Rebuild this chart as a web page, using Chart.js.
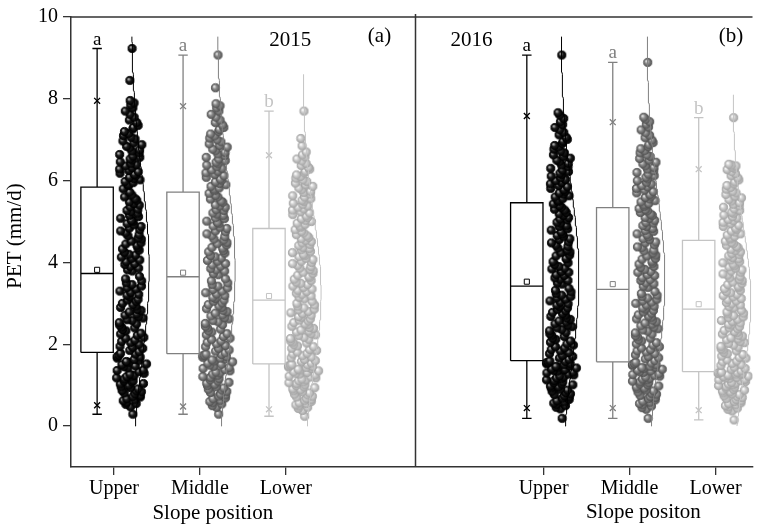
<!DOCTYPE html>
<html>
<head>
<meta charset="utf-8">
<script src="https://cdn.jsdelivr.net/npm/chart.js@4.4.1/dist/chart.umd.min.js"></script>
<style>
  html, body { margin: 0; padding: 0; background: #fff; }
  #wrap { width: 758px; height: 528px; }
</style>
</head>
<body>
<div id="wrap"><canvas id="c" width="758" height="528"></canvas></div>
<script>
// ---- data -------------------------------------------------------------
const slopePositions = ['Upper', 'Middle', 'Lower'];
const years = ['2015', '2016'];
const panelTags = ['(a)', '(b)'];
const xAxisTitles = ['Slope position', 'Slope positon'];
const yAxisTitle = 'PET (mm/d)';
const yTicks = [0, 2, 4, 6, 8, 10];
const groupLetters = ['a', 'a', 'b', 'a', 'a', 'b'];

// daily PET (mm/d), sorted, per slope position and year
const pet2015Upper = [
  0.29,0.47,0.53,0.55,0.58,0.62,0.64,0.67,0.71,0.72,0.75,0.79,0.81,0.84,0.86,0.87,0.91,0.94,0.96,1.0,
  1.03,1.04,1.08,1.1,1.11,1.15,1.18,1.2,1.21,1.24,1.27,1.29,1.33,1.36,1.37,1.42,1.45,1.47,1.5,1.52,
  1.56,1.58,1.61,1.63,1.66,1.69,1.7,1.73,1.76,1.78,
  1.82,1.85,1.9,1.93,1.95,2.0,2.04,2.07,2.1,2.15,2.17,2.22,2.25,2.27,2.33,2.36,2.4,2.42,2.47,2.5,
  2.53,2.58,2.6,2.64,2.68,2.71,2.74,2.79,2.83,2.85,2.9,2.93,2.97,3.0,3.05,3.08,3.1,3.16,3.2,3.22,
  3.27,3.3,3.35,3.38,3.42,3.46,3.5,3.55,3.6,3.66,
  3.79,3.82,3.86,3.9,3.95,3.97,4.02,4.06,4.1,4.13,4.18,4.2,4.25,4.3,4.33,4.36,4.42,4.45,4.48,4.52,
  4.57,4.6,4.65,4.68,4.72,4.77,4.8,4.84,4.88,4.92,4.95,5.0,5.03,5.08,5.12,5.15,5.2,5.24,5.27,5.3,
  5.36,5.4,5.44,5.48,5.52,5.56,5.6,5.65,5.72,5.8,
  5.88,5.91,5.95,5.98,6.02,6.05,6.08,6.12,6.15,6.18,6.22,6.25,6.28,6.32,6.36,6.39,6.42,6.46,6.5,6.53,
  6.57,6.6,6.64,6.68,6.72,6.75,6.8,6.84,6.88,6.92,6.97,7.02,7.06,7.1,7.15,7.2,7.26,7.3,7.35,7.42,
  7.48,7.55,7.62,7.7,7.78,7.85,7.9,7.96,8.45,9.23
];
const pet2015Middle = [
  0.29,0.46,0.5,0.54,0.57,0.6,0.63,0.67,0.69,0.73,0.76,0.78,0.82,0.85,0.88,0.9,0.93,0.96,0.99,1.02,
  1.05,1.07,1.1,1.13,1.16,1.19,1.21,1.24,1.27,1.3,1.32,1.35,1.38,1.41,1.43,1.46,1.49,1.51,1.54,1.57,
  1.59,1.62,1.64,1.66,1.68,1.7,1.72,1.73,1.75,1.76,
  1.79,1.83,1.86,1.9,1.94,1.97,2.01,2.05,2.08,2.12,2.15,2.19,2.23,2.26,2.3,2.33,2.37,2.4,2.44,2.48,
  2.51,2.55,2.58,2.62,2.65,2.69,2.72,2.76,2.8,2.83,2.87,2.9,2.94,2.97,3.01,3.05,3.08,3.12,3.15,3.19,
  3.23,3.26,3.3,3.34,3.38,3.42,3.46,3.5,3.55,3.6,
  3.7,3.73,3.79,3.82,3.85,3.91,3.94,3.97,4.03,4.05,4.11,4.14,4.17,4.23,4.26,4.29,4.35,4.37,4.43,4.46,
  4.49,4.55,4.57,4.63,4.65,4.7,4.75,4.77,4.83,4.86,4.89,4.95,4.98,5.01,5.07,5.09,5.15,5.18,5.21,5.27,
  5.29,5.35,5.38,5.41,5.47,5.5,5.55,5.6,5.64,5.69,
  5.75,5.79,5.82,5.86,5.9,5.93,5.97,6.01,6.04,6.08,6.12,6.15,6.19,6.23,6.26,6.3,6.34,6.38,6.41,6.45,
  6.49,6.53,6.57,6.61,6.65,6.69,6.73,6.77,6.82,6.86,6.9,6.95,7.0,7.04,7.09,7.14,7.2,7.25,7.3,7.36,
  7.42,7.48,7.55,7.62,7.7,7.78,7.83,7.88,8.27,9.07
];
const pet2015Lower = [
  0.24,0.38,0.43,0.46,0.49,0.52,0.55,0.57,0.6,0.63,0.65,0.68,0.71,0.73,0.76,0.78,0.81,0.84,0.86,0.89,
  0.91,0.94,0.96,0.99,1.01,1.04,1.06,1.08,1.11,1.13,1.15,1.18,1.2,1.22,1.25,1.27,1.29,1.31,1.33,1.35,
  1.37,1.39,1.41,1.43,1.44,1.46,1.47,1.49,1.5,1.51,
  1.54,1.58,1.6,1.63,1.67,1.69,1.72,1.76,1.78,1.81,1.85,1.87,1.9,1.94,1.96,1.99,2.03,2.05,2.08,2.12,
  2.14,2.17,2.21,2.23,2.26,2.3,2.32,2.35,2.39,2.41,2.44,2.48,2.5,2.53,2.57,2.59,2.62,2.66,2.68,2.71,
  2.75,2.77,2.8,2.84,2.86,2.89,2.93,2.96,3.0,3.05,
  3.11,3.15,3.18,3.22,3.25,3.29,3.32,3.35,3.39,3.42,3.46,3.49,3.52,3.56,3.59,3.63,3.66,3.69,3.73,3.76,
  3.8,3.83,3.86,3.9,3.93,3.97,4.0,4.03,4.07,4.1,4.14,4.17,4.2,4.24,4.27,4.31,4.34,4.37,4.41,4.44,
  4.48,4.51,4.54,4.58,4.61,4.65,4.68,4.72,4.76,4.8,
  4.86,4.89,4.93,4.96,5.0,5.03,5.07,5.1,5.14,5.17,5.21,5.24,5.28,5.31,5.35,5.38,5.42,5.45,5.49,5.52,
  5.56,5.6,5.63,5.67,5.71,5.74,5.78,5.82,5.86,5.9,5.94,5.98,6.02,6.06,6.1,6.14,6.19,6.23,6.28,6.32,
  6.37,6.42,6.48,6.53,6.58,6.63,6.7,6.85,7.03,7.7
];
const pet2016Upper = [
  0.19,0.42,0.46,0.5,0.53,0.56,0.59,0.62,0.65,0.68,0.71,0.74,0.77,0.79,0.82,0.85,0.88,0.9,0.93,0.96,
  0.98,1.01,1.03,1.06,1.08,1.11,1.13,1.16,1.18,1.2,1.23,1.25,1.27,1.3,1.32,1.34,1.36,1.38,1.4,1.42,
  1.44,1.46,1.48,1.5,1.52,1.53,1.55,1.56,1.58,1.59,
  1.63,1.66,1.7,1.73,1.77,1.8,1.84,1.87,1.91,1.94,1.98,2.01,2.05,2.08,2.12,2.15,2.19,2.22,2.26,2.29,
  2.33,2.36,2.4,2.43,2.47,2.5,2.54,2.57,2.61,2.64,2.68,2.71,2.75,2.78,2.82,2.85,2.89,2.92,2.96,2.99,
  3.03,3.06,3.1,3.13,3.17,3.2,3.24,3.28,3.32,3.37,
  3.47,3.5,3.56,3.59,3.62,3.68,3.7,3.76,3.78,3.84,3.86,3.9,3.95,3.99,4.02,4.08,4.1,4.16,4.18,4.24,
  4.26,4.3,4.35,4.39,4.42,4.48,4.5,4.56,4.58,4.64,4.66,4.7,4.75,4.79,4.82,4.88,4.9,4.96,4.98,5.04,
  5.06,5.1,5.15,5.19,5.22,5.28,5.3,5.35,5.39,5.43,
  5.49,5.52,5.56,5.6,5.63,5.67,5.7,5.74,5.78,5.81,5.85,5.88,5.92,5.96,6.0,6.03,6.07,6.11,6.15,6.18,
  6.22,6.26,6.3,6.34,6.38,6.42,6.46,6.5,6.55,6.59,6.63,6.68,6.72,6.77,6.82,6.86,6.91,6.96,7.01,7.06,
  7.12,7.18,7.24,7.3,7.37,7.44,7.52,7.6,7.66,9.07
];
const pet2016Middle = [
  0.19,0.41,0.45,0.49,0.52,0.55,0.58,0.61,0.64,0.67,0.7,0.72,0.75,0.78,0.8,0.83,0.86,0.88,0.91,0.93,
  0.96,0.98,1.01,1.03,1.06,1.08,1.1,1.13,1.15,1.17,1.2,1.22,1.24,1.26,1.28,1.31,1.33,1.35,1.37,1.39,
  1.41,1.43,1.44,1.46,1.48,1.5,1.51,1.53,1.54,1.56,
  1.6,1.64,1.67,1.7,1.74,1.77,1.81,1.84,1.87,1.91,1.94,1.98,2.01,2.04,2.08,2.11,2.15,2.18,2.21,2.25,
  2.28,2.32,2.35,2.38,2.42,2.45,2.49,2.52,2.55,2.59,2.62,2.66,2.69,2.72,2.76,2.79,2.83,2.86,2.89,2.93,
  2.96,3.0,3.03,3.06,3.1,3.13,3.17,3.2,3.24,3.29,
  3.39,3.42,3.48,3.5,3.56,3.58,3.63,3.68,3.7,3.76,3.78,3.83,3.88,3.9,3.96,3.98,4.03,4.08,4.1,4.16,
  4.18,4.23,4.28,4.3,4.36,4.38,4.43,4.48,4.5,4.56,4.58,4.63,4.68,4.7,4.76,4.78,4.83,4.88,4.9,4.96,
  4.98,5.03,5.08,5.1,5.15,5.18,5.22,5.26,5.29,5.32,
  5.37,5.41,5.44,5.48,5.51,5.55,5.59,5.62,5.66,5.7,5.73,5.77,5.81,5.85,5.88,5.92,5.96,6.0,6.04,6.08,
  6.12,6.16,6.2,6.24,6.28,6.32,6.36,6.41,6.45,6.5,6.54,6.59,6.63,6.68,6.73,6.78,6.83,6.88,6.93,6.99,
  7.05,7.11,7.17,7.24,7.31,7.38,7.44,7.5,7.55,8.89
];
const pet2016Lower = [
  0.15,0.37,0.41,0.44,0.47,0.5,0.52,0.55,0.57,0.6,0.62,0.65,0.67,0.7,0.72,0.74,0.77,0.79,0.81,0.84,
  0.86,0.88,0.9,0.93,0.95,0.97,0.99,1.01,1.03,1.05,1.07,1.09,1.11,1.13,1.14,1.16,1.18,1.19,1.21,1.22,
  1.24,1.25,1.26,1.27,1.28,1.29,1.3,1.31,1.31,1.32,
  1.35,1.39,1.41,1.44,1.48,1.5,1.53,1.57,1.59,1.62,1.66,1.68,1.71,1.75,1.77,1.8,1.84,1.86,1.89,1.93,
  1.95,1.98,2.02,2.04,2.07,2.11,2.13,2.16,2.2,2.22,2.25,2.29,2.31,2.34,2.38,2.4,2.43,2.47,2.49,2.52,
  2.56,2.58,2.61,2.65,2.67,2.7,2.74,2.76,2.79,2.83,
  2.89,2.92,2.96,2.99,3.02,3.06,3.09,3.12,3.16,3.19,3.22,3.26,3.29,3.32,3.36,3.39,3.42,3.46,3.49,3.52,
  3.56,3.59,3.62,3.66,3.69,3.72,3.76,3.79,3.82,3.86,3.89,3.92,3.96,3.99,4.02,4.06,4.09,4.12,4.16,4.19,
  4.22,4.26,4.29,4.32,4.36,4.39,4.42,4.46,4.49,4.52,
  4.57,4.6,4.64,4.67,4.7,4.74,4.77,4.81,4.84,4.88,4.91,4.95,4.98,5.02,5.05,5.09,5.12,5.16,5.2,5.23,
  5.27,5.31,5.35,5.38,5.42,5.46,5.5,5.54,5.58,5.62,5.66,5.7,5.74,5.79,5.83,5.88,5.92,5.97,6.02,6.07,
  6.12,6.17,6.22,6.27,6.3,6.33,6.36,6.38,6.4,7.54
];

// box statistics, order: 2015 Upper/Middle/Lower, 2016 Upper/Middle/Lower
const boxMin    = [0.29, 0.29, 0.24, 0.19, 0.19, 0.15];
const boxP01    = [0.51, 0.48, 0.41, 0.44, 0.44, 0.39];
const boxQ1     = [1.80, 1.77, 1.52, 1.60, 1.57, 1.33];
const boxMedian = [3.73, 3.65, 3.08, 3.42, 3.34, 2.86];
const boxMean   = [3.82, 3.75, 3.18, 3.53, 3.47, 2.98];
const boxQ3     = [5.84, 5.72, 4.83, 5.46, 5.34, 4.54];
const boxP99    = [7.95, 7.82, 6.62, 7.58, 7.43, 6.28];
const boxMax    = [9.23, 9.07, 7.70, 9.07, 8.89, 7.54];
// upper end of each fitted normal curve
const curveTop  = [9.52, 9.52, 8.6, 9.52, 9.52, 8.1];

const petSeries = [pet2015Upper, pet2015Middle, pet2015Lower,
                   pet2016Upper, pet2016Middle, pet2016Lower];

// ---- layout / style -----------------------------------------------------
const FONT = '"Liberation Serif", "Times New Roman", serif';
const groupPos = [1, 2, 3, 6, 7, 8];          // slot of each group on the shared x scale
const panelSplit = 4.5;                        // boundary between the two year panels
const tone = ['#000000', '#808080', '#c4c4c4'];
const groupColor = i => tone[i % 3];
const BOX_L = -0.385, BOX_R = -0.008, WHISK = -0.196, CAP = 0.055;
const SWARM = 0.2, SPREAD = 0.19, CURVE_AMP = 0.21, KDE_BW = 0.45;

function meanOf(a) { return a.reduce((s, v) => s + v, 0) / a.length; }
function sdOf(a) { const m = meanOf(a); return Math.sqrt(a.reduce((s, v) => s + (v - m) * (v - m), 0) / (a.length - 1)); }

// scrambled index in [0,1) used to place each point sideways in its swarm
function scramble(i) {
  let h = Math.imul(i + 1, 0x9E3779B1);
  h ^= h >>> 15; h = Math.imul(h, 0x85EBCA77);
  h ^= h >>> 13; h = Math.imul(h, 0xC2B2AE3D);
  h ^= h >>> 16;
  return (h >>> 0) / 4294967296;
}
function sideSlot(i) { return ((i + 1) * 0.6180339887 + 0.45 * scramble(i)) % 1; }

// shaded sphere used as the point marker
function ballSprite(hi, body, edge, r) {
  const s = Math.ceil(2 * r + 2);
  const c = document.createElement('canvas');
  c.width = s; c.height = s;
  const g = c.getContext('2d');
  const cx = s / 2, cy = s / 2;
  const grad = g.createRadialGradient(cx - r * 0.35, cy - r * 0.35, r * 0.1, cx, cy, r);
  grad.addColorStop(0, hi);
  grad.addColorStop(0.45, body);
  grad.addColorStop(1, edge);
  g.beginPath(); g.arc(cx, cy, r, 0, Math.PI * 2);
  g.fillStyle = grad; g.fill();
  g.lineWidth = 0.9; g.strokeStyle = edge; g.stroke();
  return c;
}
const R = 4.1;
const sprites = [
  ballSprite('#b0b0b0', '#1a1a1a', '#000000', R),
  ballSprite('#e6e6e6', '#8a8a8a', '#555555', R),
  ballSprite('#ffffff', '#cfcfcf', '#a6a6a6', R)
];

const curveSets = [], markerSets = [], boxSets = [], pointSets = [];

petSeries.forEach((vals, g) => {
  const cx = groupPos[g];
  const col = groupColor(g);
  const m = meanOf(vals), sd = sdOf(vals);
  const dens = v => Math.exp(-0.5 * ((v - m) / sd) ** 2);
  const kde = v => vals.reduce((s, w) => s + Math.exp(-0.5 * ((v - w) / KDE_BW) ** 2), 0);
  const kdeMax = Math.max(...vals.map(kde));
  const base = cx + SWARM;

  // jittered points, sideways spread follows the data density
  pointSets.push({
    data: vals.map((v, i) => {
      const w = Math.max(kde(v) / kdeMax, 0.08);
      return { x: base + (sideSlot(i) - 0.5) * 2 * SPREAD * w, y: v };
    }),
    pointStyle: sprites[g % 3],
    pointRadius: R, pointHoverRadius: R,
    showLine: false
  });

  // fitted normal curve
  const curve = [];
  for (let y = 0; y <= curveTop[g] + 1e-9; y += 0.05) curve.push({ x: base + CURVE_AMP * dens(y), y });
  curve.push({ x: base + CURVE_AMP * dens(curveTop[g]), y: curveTop[g] });
  curveSets.push({
    data: curve, showLine: true, pointRadius: 0, borderColor: col,
    borderWidth: 1, fill: false, tension: 0
  });

  // box, median, whiskers and caps (segments split by gaps)
  const x0 = cx + BOX_L, x1 = cx + BOX_R, wx = cx + WHISK;
  const gap = { x: wx, y: null };
  boxSets.push({
    data: [
      { x: x0, y: boxQ1[g] }, { x: x1, y: boxQ1[g] }, { x: x1, y: boxQ3[g] }, { x: x0, y: boxQ3[g] }, { x: x0, y: boxQ1[g] }, gap,
      { x: x0, y: boxMedian[g] }, { x: x1, y: boxMedian[g] }, gap,
      { x: wx, y: boxQ3[g] }, { x: wx, y: boxMax[g] }, gap,
      { x: wx - CAP, y: boxMax[g] }, { x: wx + CAP, y: boxMax[g] }, gap,
      { x: wx, y: boxQ1[g] }, { x: wx, y: boxMin[g] }, gap,
      { x: wx - CAP, y: boxMin[g] }, { x: wx + CAP, y: boxMin[g] }
    ],
    showLine: true, spanGaps: false, pointRadius: 0, borderColor: col,
    borderWidth: 1.3, borderJoinStyle: 'miter', fill: false
  });

  // 1st / 99th percentile crosses and mean square
  markerSets.push({
    data: [{ x: wx, y: boxP01[g] }, { x: wx, y: boxP99[g] }],
    pointStyle: 'crossRot', pointRadius: 4.2, borderColor: col, borderWidth: 1.3, showLine: false
  });
  markerSets.push({
    data: [{ x: wx, y: boxMean[g] }],
    pointStyle: 'rect', pointRadius: 3.6, backgroundColor: '#ffffff', borderColor: col, borderWidth: 1, showLine: false
  });
});

const tickLabel = {};
groupPos.forEach((p, g) => { tickLabel[p] = slopePositions[g % 3]; });

// frame, panel divider and annotation text
const annotate = {
  id: 'annotate',
  afterDatasetsDraw(chart) {
    const { ctx, chartArea: a, scales: { x, y } } = chart;
    ctx.save();
    ctx.strokeStyle = '#333'; ctx.lineWidth = 1.5;
    ctx.beginPath();
    ctx.moveTo(a.left, a.top); ctx.lineTo(a.right, a.top);
    const sx = Math.round(x.getPixelForValue(panelSplit)) + 0.5;
    ctx.moveTo(sx, a.top - 3); ctx.lineTo(sx, a.bottom);
    ctx.stroke();

    ctx.textAlign = 'center'; ctx.textBaseline = 'alphabetic';
    ctx.font = '19px ' + FONT;
    groupLetters.forEach((t, g) => {
      ctx.fillStyle = groupColor(g);
      ctx.fillText(t, x.getPixelForValue(groupPos[g] + WHISK), y.getPixelForValue(boxMax[g]) - 4);
    });

    ctx.fillStyle = '#000';
    ctx.font = '21px ' + FONT;
    ctx.fillText(years[0], x.getPixelForValue(3.05), a.top + 29);
    ctx.fillText(panelTags[0], x.getPixelForValue(4.09), a.top + 25);
    ctx.fillText(years[1], x.getPixelForValue(5.16), a.top + 29);
    ctx.fillText(panelTags[1], x.getPixelForValue(8.18), a.top + 25);

    ctx.fillText(xAxisTitles[0], x.getPixelForValue(2.15), a.bottom + 52);
    ctx.fillText(xAxisTitles[1], x.getPixelForValue(7.16), a.bottom + 51);

    ctx.translate(15, 236);
    ctx.rotate(-Math.PI / 2);
    ctx.textBaseline = 'middle';
    ctx.fillText(yAxisTitle, 0, 0);
    ctx.restore();
  }
};

new Chart(document.getElementById('c'), {
  type: 'scatter',
  data: { datasets: [...curveSets, ...markerSets, ...boxSets, ...pointSets] },
  options: {
    responsive: false,
    animation: false,
    events: [],
    layout: { padding: { top: 15, right: 0, bottom: 0, left: 0 } },
    plugins: { legend: { display: false }, tooltip: { enabled: false } },
    scales: {
      x: {
        type: 'linear', min: 0.5, max: 8.43,
        afterBuildTicks: s => { s.ticks = groupPos.map(v => ({ value: v })); },
        afterFit: s => { s.height = 61; },
        ticks: {
          autoSkip: false, maxRotation: 0, padding: 2, color: '#000',
          font: { family: FONT, size: 20 },
          callback: v => tickLabel[v] || ''
        },
        grid: { display: true, drawOnChartArea: false, drawTicks: true, tickLength: 8, color: '#333', lineWidth: 1.3 },
        border: { display: true, color: '#333', width: 1.5 }
      },
      y: {
        type: 'linear', min: -1, max: 10,
        afterBuildTicks: s => { s.ticks = yTicks.map(v => ({ value: v })); },
        afterFit: s => { s.width = 71; },
        ticks: { padding: 5, color: '#000', font: { family: FONT, size: 20 } },
        grid: { display: true, drawOnChartArea: false, drawTicks: true, tickLength: 8, color: '#333', lineWidth: 1.3 },
        border: { display: true, color: '#333', width: 1.5 }
      }
    }
  },
  plugins: [annotate]
});
</script>
</body>
</html>
